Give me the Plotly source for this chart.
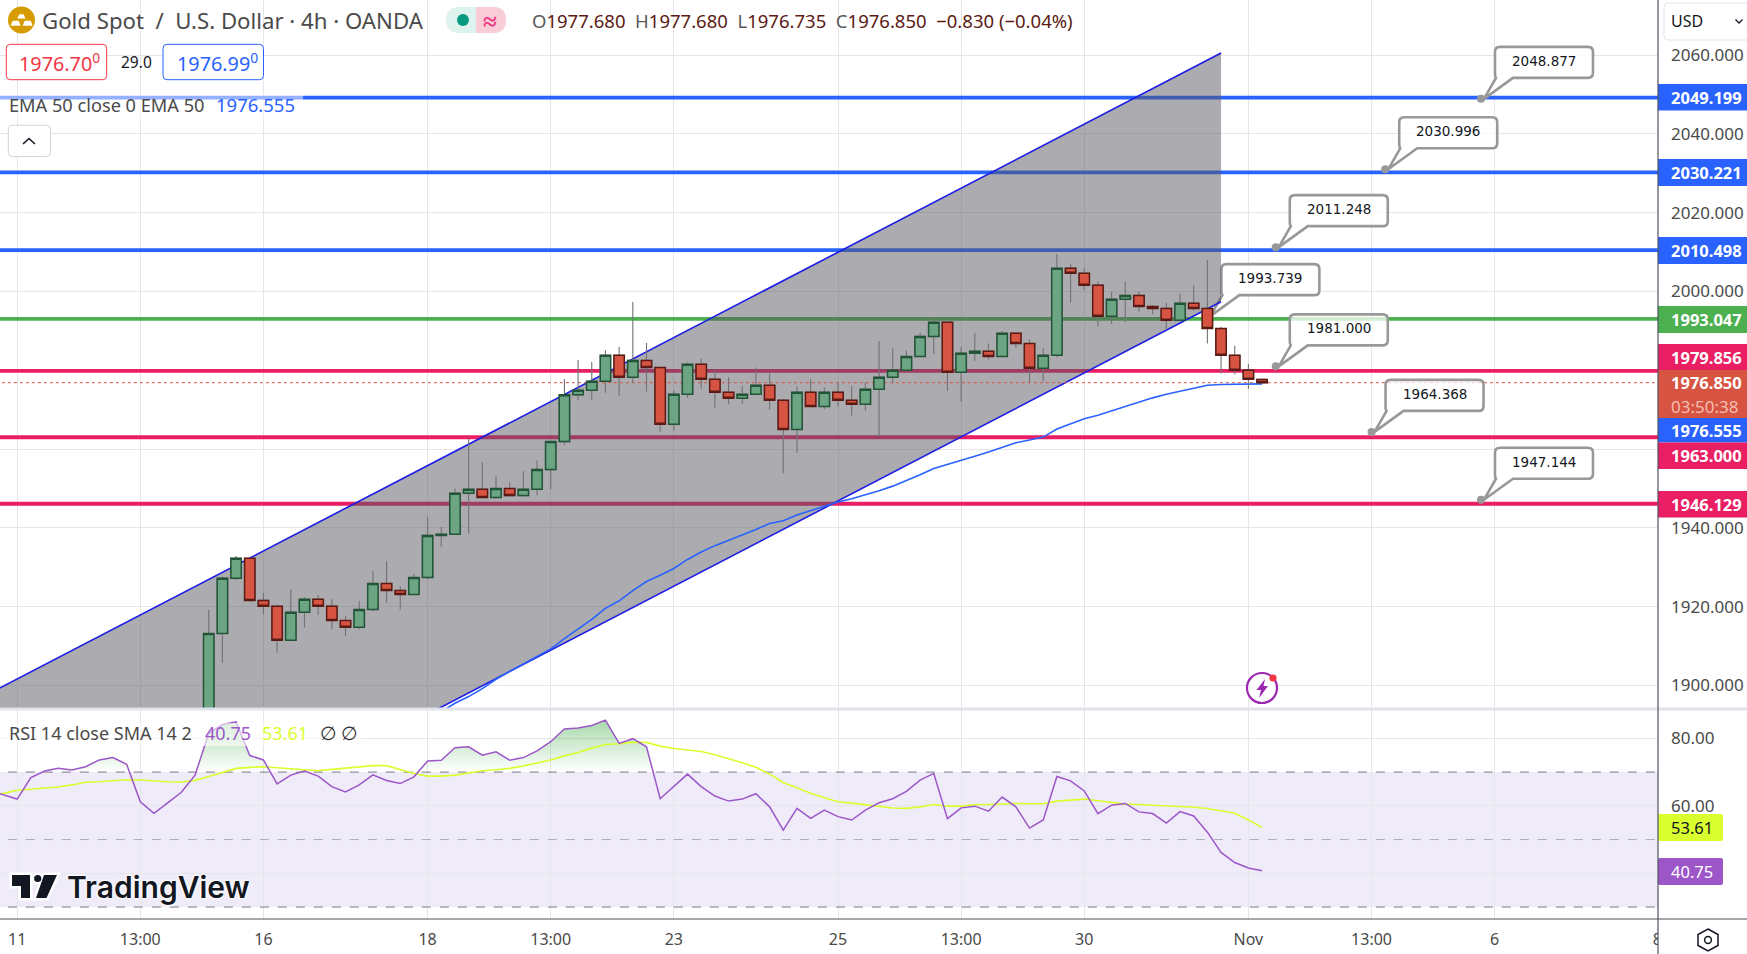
import plotly.graph_objects as go

W = 1747
H = 954
PANE_RIGHT = 1658
MAIN_BOTTOM = 708
RSI_TOP = 710
RSI_BOTTOM = 919

FONT = "Noto Sans"
TEXT_COLOR = "#4a4a4a"
GRID_COLOR = "#e6e6e8"
UP_FILL = "#6ba583"
UP_EDGE = "#225437"
DOWN_FILL = "#d75442"
DOWN_EDGE = "#5b1a13"
WICK_COLOR = "#737375"
BLUE = "#2962ff"
PINK = "#e91e63"
GREEN = "#4caf50"
PURPLE = "#9c56c8"
YELLOW = "#d9ff2e"
CALLOUT_GRAY = "#989898"

# bar 0 is the "11" date tick, one bar = 4h
BAR_FIRST = 14
OPENS = [
    1893.0, 1913.2, 1927.2, 1932.3, 1921.6, 1920.1, 1911.5, 1918.6, 1921.9, 1920.1,
    1916.5, 1914.8, 1919.3, 1925.9, 1924.1, 1923.1, 1927.4, 1938.1, 1938.4, 1948.8,
    1949.8, 1947.7, 1950.0, 1948.2, 1949.8, 1954.8, 1961.9, 1973.8, 1974.9, 1977.2,
    1983.8, 1978.2, 1982.5, 1980.7, 1966.3, 1973.9, 1981.5, 1977.7, 1974.4, 1972.9,
    1973.9, 1976.2, 1972.4, 1965.0, 1974.4, 1970.8, 1974.4, 1972.4, 1971.4, 1975.2,
    1978.2, 1980.0, 1983.5, 1988.6, 1992.2, 1979.5, 1984.3, 1984.8, 1983.5, 1989.4,
    1986.8, 1980.5, 1983.8, 2005.9, 2004.6, 2001.6, 1993.7, 1998.0, 1999.0, 1996.2,
    1995.7, 1992.7, 1997.0, 1995.7, 1990.6, 1983.8, 1980.0, 1977.68,
]
HIGHS = [
    1919.2, 1927.6, 1932.9, 1932.5, 1923.5, 1920.1, 1924.5, 1922.4, 1923.0, 1921.9,
    1917.6, 1921.4, 1929.0, 1931.6, 1925.2, 1928.3, 1942.8, 1940.2, 1950.0, 1962.7,
    1956.7, 1953.3, 1951.6, 1954.4, 1957.1, 1962.0, 1977.8, 1982.6, 1982.1, 1985.1,
    1985.9, 1997.3, 1986.9, 1980.7, 1974.9, 1982.0, 1982.9, 1980.1, 1978.2, 1976.0,
    1980.7, 1979.2, 1972.7, 1975.9, 1977.7, 1975.6, 1976.9, 1976.0, 1976.9, 1987.4,
    1985.6, 1985.0, 1989.5, 1993.4, 1992.2, 1985.9, 1989.5, 1986.8, 1989.9, 1989.7,
    1987.9, 1985.65, 2009.5, 2007.0, 2005.9, 2002.6, 2000.0, 2002.6, 2000.0, 1996.5,
    1997.2, 1999.4, 2001.6, 2008.0, 1991.1, 1986.2, 1981.6, 1977.68,
]
LOWS = [
    1890.0, 1905.8, 1926.8, 1921.3, 1918.1, 1908.3, 1911.5, 1914.7, 1917.9, 1914.3,
    1912.6, 1914.3, 1918.9, 1921.0, 1919.2, 1923.1, 1927.0, 1935.2, 1938.4, 1938.5,
    1947.5, 1947.4, 1947.9, 1947.9, 1948.2, 1949.9, 1961.1, 1972.4, 1972.3, 1974.3,
    1973.5, 1976.8, 1974.6, 1964.4, 1964.7, 1973.0, 1975.3, 1970.3, 1971.3, 1971.5,
    1973.9, 1970.0, 1953.8, 1959.1, 1970.8, 1970.2, 1970.9, 1968.5, 1969.7, 1963.1,
    1976.7, 1980.0, 1983.5, 1984.1, 1974.8, 1972.0, 1982.4, 1982.8, 1983.5, 1985.7,
    1977.0, 1977.1, 1983.3, 1997.2, 2000.4, 1991.1, 1991.8, 1992.1, 1994.9, 1994.2,
    1990.6, 1992.7, 1995.2, 1986.8, 1979.2, 1979.0, 1975.3, 1976.735,
]
CLOSES = [
    1913.2, 1927.2, 1932.3, 1921.6, 1920.1, 1911.5, 1918.6, 1921.9, 1920.1, 1916.5,
    1914.8, 1919.3, 1925.9, 1924.1, 1923.1, 1927.4, 1938.1, 1938.4, 1948.8, 1949.8,
    1947.7, 1950.0, 1948.2, 1949.8, 1954.8, 1961.9, 1973.8, 1974.9, 1977.2, 1983.8,
    1978.2, 1982.5, 1980.7, 1966.3, 1973.9, 1981.5, 1977.7, 1974.4, 1972.9, 1973.9,
    1976.2, 1972.4, 1965.0, 1974.4, 1970.8, 1974.4, 1972.4, 1971.4, 1975.2, 1978.2,
    1980.0, 1983.5, 1988.6, 1992.2, 1979.5, 1984.3, 1984.8, 1983.5, 1989.4, 1986.8,
    1980.5, 1983.8, 2005.9, 2004.6, 2001.6, 1993.7, 1998.0, 1999.0, 1996.2, 1995.7,
    1992.7, 1997.0, 1995.7, 1990.6, 1983.8, 1980.0, 1977.7, 1976.85,
]

EMA_FIRST = 30
EMA_50 = [
    1891.8, 1893.4, 1895.5, 1897.2, 1899.2, 1901.6, 1903.6, 1905.5, 1907.3, 1909.3,
    1911.9, 1914.3, 1916.8, 1919.6, 1921.5, 1924.1, 1926.4, 1928.0, 1929.7, 1932.0,
    1933.9, 1935.5, 1936.8, 1938.1, 1939.6, 1941.1, 1941.8, 1943.3, 1944.4, 1945.6,
    1946.6, 1947.4, 1948.4, 1949.4, 1950.6, 1952.0, 1953.5, 1955.1, 1956.2, 1957.2,
    1958.2, 1959.25, 1960.4, 1961.6, 1962.3, 1963.05, 1965.1, 1966.5, 1967.7, 1968.6,
    1969.7, 1970.9, 1972.0, 1973.0, 1973.9, 1974.7, 1975.5, 1976.2, 1976.4, 1976.5,
    1976.6, 1976.555,
]

RSI_FIRST = -2
RSI = [
    64.5, 63.2, 62.0, 68.4, 70.3, 71.1, 70.6, 71.6, 73.6, 74.3, 72.3, 61.2, 57.8, 60.9,
    64.0, 69.1, 81.5, 84.1, 84.9, 74.9, 73.6, 66.5, 69.1, 70.3, 68.8, 65.7, 64.1, 66.2,
    69.2, 67.5, 66.6, 68.6, 73.3, 73.5, 77.2, 77.5, 75.0, 76.0, 73.5, 74.3, 76.3, 79.0,
    82.8, 83.1, 83.8, 85.4, 78.5, 79.9, 77.5, 62.1, 65.7, 69.4, 65.7, 62.9, 61.4, 62.0,
    63.6, 59.7, 52.8, 59.25, 56.3, 58.75, 56.8, 55.8, 58.75, 60.9, 62.1, 64.3, 67.6, 69.6,
    56.2, 59.4, 59.9, 58.4, 62.6, 59.7, 53.4, 55.8, 68.7, 67.4, 64.4, 57.7, 60.2, 60.7,
    58.2, 57.7, 54.9, 58.3, 57.0, 52.2, 46.2, 43.2, 41.6, 40.75,
]
RSI_SMA = [
    63.4, 63.7, 64.6, 64.9, 65.3, 65.6, 66.2, 67.0, 67.15, 67.45, 67.75, 67.65, 67.35,
    67.15, 67.05, 67.55, 68.7, 70.0, 71.1, 71.4, 71.6, 71.3, 71.0, 70.7, 70.4, 70.8, 71.2,
    71.6, 71.9, 71.9, 70.8, 69.6, 68.8, 68.8, 69.1, 69.8, 70.4, 70.7, 71.1, 71.8, 72.6,
    73.6, 74.8, 75.8, 77.1, 78.2, 78.4, 78.8, 78.8, 77.7, 77.0, 76.6, 76.1, 75.15, 74.0,
    72.8, 71.4, 69.4, 66.9, 65.3, 63.7, 62.4, 61.2, 60.8, 60.3, 59.7, 59.35, 59.25, 59.7,
    60.4, 59.9, 59.9, 60.3, 60.4, 60.6, 60.7, 60.6, 60.6, 61.4, 61.8, 62.0, 61.5, 60.9,
    60.5, 60.4, 60.2, 60.0, 60.0, 59.6, 59.2, 58.6, 57.8, 55.8, 53.61,
]
RSI_LEVELS = [70, 50, 30]

LEVELS = [2049.199, 2030.221, 2010.498, 1993.047, 1979.856, 1963.0, 1946.129]
LEVEL_COLORS = [BLUE, BLUE, BLUE, GREEN, PINK, PINK, PINK]
LAST_PRICE = 1976.85

CHANNEL_BARS = [-2, 88]
CHANNEL_UPPER = [1898.05, 2060.5]
CHANNEL_LOWER = [1834.95, 1997.4]

CALLOUT_BARS = [107, 100, 92, 87, 92, 99, 107]
CALLOUT_PRICES = [2048.877, 2030.996, 2011.248, 1993.739, 1981.0, 1964.368, 1947.144]

# the "8" tick lands on the edge of the price scale, which cuts it in half
DATE_TICKS = [0, 9, 18, 30, 39, 48, 60, 69, 78, 90, 99, 108, 119.9]
DATE_LABELS = ["11", "13:00", "16", "18", "13:00", "23", "25", "13:00", "30", "Nov", "13:00", "6", "8"]
PRICE_TICKS = [1900, 1920, 1940, 2000, 2020, 2040, 2060]
PRICE_LABELS = ["1900.000", "1920.000", "1940.000", "2000.000", "2020.000", "2040.000", "2060.000"]
PRICE_HIDDEN_TICKS = [1960, 1980]
RSI_TICKS = [60, 80]
RSI_LABELS = ["60.00", "80.00"]
RSI_HIDDEN_TICKS = [40]

# text, colour, top and bottom of the tag on the price scale, in page pixels
TAG_TEXTS = ["2049.199", "2030.221", "2010.498", "1993.047", "1979.856", "1976.850", "03:50:38", "1976.555", "1963.000", "1946.129"]
TAG_COLORS = [BLUE, BLUE, BLUE, GREEN, PINK, DOWN_FILL, DOWN_FILL, BLUE, PINK, PINK]
TAG_TOPS = [84, 159, 237, 306, 344, 370, 394, 418, 442.5, 491]
TAG_BOTTOMS = [110.5, 186, 264, 333, 370, 394, 418, 442.5, 469, 517.5]


def fx(px):
    return px / W


def fy(py):
    return 1 - py / H


def text_at(x, y, text, color=TEXT_COLOR, size=17, anchor="left", family=FONT, **kw):
    return dict(
        x=fx(x), y=fy(y), xref="paper", yref="paper", text=text, showarrow=False,
        xanchor=anchor, yanchor="middle", borderpad=0,
        font=dict(family=family, size=size, color=color, **kw),
    )


def rounded_path(x0, y0, x1, y1, r):
    # rounded rectangle, page pixels in, paper fractions out
    a, b, c, d = fx(x0), fy(y0), fx(x1), fy(y1)
    rx, ry = r / W, r / H
    return (
        f"M {a + rx} {b} L {c - rx} {b} Q {c} {b} {c} {b - ry} "
        f"L {c} {d + ry} Q {c} {d} {c - rx} {d} "
        f"L {a + rx} {d} Q {a} {d} {a} {d + ry} "
        f"L {a} {b - ry} Q {a} {b} {a + rx} {b} Z"
    )


def poly_path(points):
    body = " L ".join(f"{fx(x)} {fy(y)}" for x, y in points)
    return f"M {body} Z"


def open_path(points):
    return "M " + " L ".join(f"{fx(x)} {fy(y)}" for x, y in points)


def paper_shape(path, fill="rgba(0,0,0,0)", line="rgba(0,0,0,0)", width=1):
    return dict(
        type="path", xref="paper", yref="paper", path=path, fillcolor=fill,
        line=dict(color=line, width=width), layer="above",
    )


def paper_circle(cx, cy, r, fill, line="rgba(0,0,0,0)", width=0):
    return dict(
        type="circle", xref="paper", yref="paper", layer="above",
        x0=fx(cx - r), x1=fx(cx + r), y0=fy(cy + r), y1=fy(cy - r),
        fillcolor=fill, line=dict(color=line, width=width),
    )


def overbought_polygons(bars, values, level):
    # closed outlines of the RSI stretches above the level
    xs, ys = [], []
    for i in range(1, len(values)):
        a, b = values[i - 1], values[i]
        if a <= level < b or b <= level < a:
            t = (level - a) / (b - a)
            cross = bars[i - 1] + t * (bars[i] - bars[i - 1])
            xs.append(cross)
            ys.append(level)
            if b <= level:
                xs.append(None)
                ys.append(None)
        if b > level:
            xs.append(bars[i])
            ys.append(b)
    return xs, ys


bars = list(range(BAR_FIRST, BAR_FIRST + len(OPENS)))
rsi_bars = list(range(RSI_FIRST, RSI_FIRST + len(RSI)))
ema_bars = list(range(EMA_FIRST, EMA_FIRST + len(EMA_50)))

fig = go.Figure()

# levels sit under the channel, candles go on an overlaid axis so they stay on top
for level, color in zip(LEVELS, LEVEL_COLORS):
    fig.add_trace(go.Scatter(
        x=[-2, 121], y=[level, level], mode="lines", hoverinfo="skip",
        line=dict(color=color, width=3.8),
    ))

fig.add_trace(go.Scatter(
    x=CHANNEL_BARS + CHANNEL_BARS[::-1], y=CHANNEL_UPPER + CHANNEL_LOWER[::-1],
    mode="lines", fill="toself", fillcolor="rgba(88,88,98,0.5)",
    line=dict(width=0), hoverinfo="skip",
))
for edge in (CHANNEL_UPPER, CHANNEL_LOWER):
    fig.add_trace(go.Scatter(
        x=CHANNEL_BARS, y=edge, mode="lines", hoverinfo="skip",
        line=dict(color="#1c1ce6", width=1.6),
    ))

fig.add_trace(go.Scatter(
    x=[-2, 121], y=[LAST_PRICE, LAST_PRICE], mode="lines", hoverinfo="skip",
    line=dict(color=DOWN_FILL, width=1, dash="dot"),
))
fig.add_trace(go.Scatter(
    x=ema_bars, y=EMA_50, mode="lines", name="EMA 50",
    line=dict(color=BLUE, width=1.6),
))
fig.add_trace(go.Scatter(
    x=CALLOUT_BARS, y=CALLOUT_PRICES, mode="markers", hoverinfo="skip",
    marker=dict(color=CALLOUT_GRAY, size=8),
))

fig.add_trace(go.Candlestick(
    x=bars, open=OPENS, high=HIGHS, low=LOWS, close=CLOSES, yaxis="y3",
    increasing=dict(line=dict(color=WICK_COLOR, width=1.1), fillcolor=UP_FILL),
    decreasing=dict(line=dict(color=WICK_COLOR, width=1.1), fillcolor=DOWN_FILL),
))
fig.add_trace(go.Candlestick(
    x=bars, open=OPENS, close=CLOSES, yaxis="y3",
    high=[max(o, c) for o, c in zip(OPENS, CLOSES)],
    low=[min(o, c) for o, c in zip(OPENS, CLOSES)],
    increasing=dict(line=dict(color=UP_EDGE, width=1.5), fillcolor=UP_FILL),
    decreasing=dict(line=dict(color=DOWN_EDGE, width=1.5), fillcolor=DOWN_FILL),
))

# RSI pane
poly_x, poly_y = overbought_polygons(rsi_bars, RSI, 70)
fig.add_trace(go.Scatter(
    x=poly_x, y=poly_y, xaxis="x2", yaxis="y2", mode="lines", fill="toself",
    line=dict(width=0), hoverinfo="skip",
    fillgradient=dict(
        type="vertical", start=70, stop=86,
        colorscale=[[0, "rgba(76,175,80,0)"], [1, "rgba(76,175,80,0.5)"]],
    ),
))
fig.add_trace(go.Scatter(
    x=rsi_bars, y=RSI_SMA, xaxis="x2", yaxis="y2", mode="lines", name="SMA",
    line=dict(color=YELLOW, width=1.6),
))
fig.add_trace(go.Scatter(
    x=rsi_bars, y=RSI, xaxis="x2", yaxis="y2", mode="lines", name="RSI",
    line=dict(color=PURPLE, width=1.5),
))

shapes = []
annotations = []

# RSI band
shapes.append(dict(
    type="rect", xref="x2", yref="y2", x0=-2, x1=121, y0=RSI_LEVELS[2], y1=RSI_LEVELS[0],
    fillcolor="rgba(126,87,194,0.12)", line=dict(width=0), layer="below",
))
for level, color in zip(RSI_LEVELS, ["#787b86", "#a9abb3", "#787b86"]):
    shapes.append(dict(
        type="line", xref="x2", yref="y2", x0=-2, x1=121, y0=level, y1=level,
        line=dict(color=color, width=1, dash="dash"), layer="between",
    ))

# legend veils
shapes.append(dict(type="rect", xref="paper", yref="paper", x0=0, x1=fx(303), y0=fy(118), y1=fy(94),
                   fillcolor="rgba(255,255,255,0.5)", line=dict(width=0), layer="above"))
shapes.append(dict(type="rect", xref="paper", yref="paper", x0=0, x1=fx(362), y0=fy(746), y1=fy(723),
                   fillcolor="rgba(255,255,255,0.6)", line=dict(width=0), layer="above"))

# hides the right half of the "8" tick label
shapes.append(dict(type="rect", xref="paper", yref="paper", x0=fx(PANE_RIGHT), x1=1, y0=0, y1=fy(RSI_BOTTOM),
                   fillcolor="white", line=dict(width=0), layer="above"))

# pane borders
shapes.append(dict(type="line", xref="paper", yref="paper", x0=0, x1=1, y0=fy(709), y1=fy(709),
                   line=dict(color="#e0e3eb", width=3), layer="above"))
shapes.append(dict(type="line", xref="paper", yref="paper", x0=0, x1=1, y0=fy(RSI_BOTTOM), y1=fy(RSI_BOTTOM),
                   line=dict(color="#50535e", width=1.2), layer="above"))

# callouts, pixel offsets from the anchored price
BOX_PATH = (
    "M 19 52 L 107 52 Q 112 52 112 47 L 112 26 Q 112 21 107 21 L 32 21 L 3 0 "
    "L 15 21 Q 14 22 14 26 L 14 47 Q 14 52 19 52 Z"
)
for bar, price in zip(CALLOUT_BARS, CALLOUT_PRICES):
    shapes.append(dict(
        type="path", xref="x", yref="y", xsizemode="pixel", ysizemode="pixel",
        xanchor=bar, yanchor=price, path=BOX_PATH, fillcolor="rgba(255,255,255,0.75)",
        line=dict(color=CALLOUT_GRAY, width=2.6),
        layer="between" if price == 1993.739 else "above",
    ))
    annotations.append(dict(
        x=bar, y=price, xref="x", yref="y", xshift=63, yshift=38, showarrow=False,
        text=f"{price:.3f}", font=dict(family="DejaVu Sans", size=13.5, color="#131722"),
    ))

# price scale tags
for text, color, top, bottom in zip(TAG_TEXTS, TAG_COLORS, TAG_TOPS, TAG_BOTTOMS):
    shapes.append(dict(type="rect", xref="paper", yref="paper", x0=fx(PANE_RIGHT), x1=1,
                       y0=fy(bottom), y1=fy(top), fillcolor=color, line=dict(width=0), layer="above"))
    faded = text.startswith("03")
    annotations.append(text_at(1670, (top + bottom) / 2, text if faded else f"<b>{text}</b>",
                               color="#f6bdb3" if faded else "white", size=17 if faded else 16.5))

shapes.append(paper_shape(rounded_path(1658, 814, 1723, 841, 2), fill=YELLOW))
shapes.append(paper_shape(rounded_path(1658, 858, 1723, 885, 2), fill=PURPLE))
shapes.append(dict(type="line", xref="paper", yref="paper", x0=fx(PANE_RIGHT), x1=fx(PANE_RIGHT), y0=0, y1=1,
                   line=dict(color="#50535e", width=1.2), layer="above"))
annotations.append(text_at(1670, 827.5, "53.61", color="#131722", size=16.5))
annotations.append(text_at(1670, 871.5, "40.75", color="white", size=16.5))

# header
shapes.append(paper_circle(21.5, 20, 13.5, "#d59b00"))
for bar_top, bar_bottom, left, right, bevel in [
    (14.3, 18.6, 17.3, 25.5, 2), (20.7, 25.7, 10.7, 20.7, 2), (20.7, 25.7, 22.7, 32.7, 2),
]:
    shapes.append(paper_shape(poly_path([
        (left + bevel, bar_top), (right - bevel, bar_top), (right, bar_bottom), (left, bar_bottom),
    ]), fill="white"))
annotations.append(text_at(41, 20, "Gold Spot&nbsp; /&nbsp; U.S. Dollar · 4h · OANDA", size=22.2))

shapes.append(paper_shape(rounded_path(446, 7, 506, 33, 13), fill="#def2ee"))
shapes.append(paper_shape(
    f"M {fx(476)} {fy(7)} L {fx(493)} {fy(7)} Q {fx(506)} {fy(7)} {fx(506)} {fy(20)} "
    f"Q {fx(506)} {fy(33)} {fx(493)} {fy(33)} L {fx(476)} {fy(33)} Z",
    fill="#f9cdd8",
))
shapes.append(paper_circle(463, 20, 6, "#089981"))
annotations.append(text_at(490, 20, "<b>≈</b>", color="#f23685", size=25, anchor="center"))


def ohlc(label, value):
    return f'<span style="color:#5a5a5a">{label}</span>{value}'


annotations.append(text_at(
    531, 20,
    ohlc("O", "1977.680") + "  " + ohlc("H", "1977.680") + "  " + ohlc("L", "1976.735") + "  "
    + ohlc("C", "1976.850") + "  −0.830 (−0.04%)",
    color=DOWN_EDGE, size=18.5,
))

shapes.append(paper_shape(rounded_path(6.3, 44.3, 106.7, 79.7, 4), fill="white", line="#f23645", width=1))
annotations.append(text_at(18, 62, "1976.70<sup>0</sup>", color="#f23645", size=19.8))
annotations.append(text_at(120, 62, "29.0", color="#131722", size=15.5))
shapes.append(paper_shape(rounded_path(163, 44.3, 263.5, 79.7, 4), fill="white", line=BLUE, width=1))
annotations.append(text_at(176, 62, "1976.99<sup>0</sup>", color=BLUE, size=19.8))

annotations.append(text_at(8, 105, "EMA 50 close 0 EMA 50", size=18.2))
annotations.append(text_at(215, 105, "1976.555", color=BLUE, size=18.5))

shapes.append(paper_shape(rounded_path(8.3, 125.3, 50.5, 156.5, 4), fill="white", line="#d1d4dc", width=1))
shapes.append(paper_shape(open_path([(23, 144), (29, 138.5), (35, 144)]), line="#131722", width=1.6))

# currency selector
shapes.append(paper_shape(rounded_path(1664, 3, 1752, 40, 4), fill="white", line="#e0e3eb", width=1))
annotations.append(text_at(1670, 21, "USD", color="#131722", size=16))
shapes.append(paper_shape(open_path([(1735.5, 19.5), (1739, 23), (1742.5, 19.5)]), line="#131722", width=1.3))

# RSI legend
annotations.append(text_at(8, 733, "RSI 14 close SMA 14 2", size=18))
annotations.append(text_at(204, 733, "40.75", color=PURPLE, size=18))
annotations.append(text_at(261, 733, "53.61", color=YELLOW, size=18))
annotations.append(text_at(319, 733, "∅", color="#333333", size=19))
annotations.append(text_at(340, 733, "∅", color="#333333", size=19))

# TradingView mark, white halo first
LOGO_T = [(12, 875), (30, 875), (30, 898), (21, 898), (21, 886), (12, 886)]
LOGO_SLASH = [(44, 875), (57, 875), (46.5, 898), (36, 898)]
for color, edge in (("white", 5), ("#131722", 0)):
    shapes.append(paper_shape(poly_path(LOGO_T), fill=color, line=color, width=edge))
    shapes.append(paper_shape(poly_path(LOGO_SLASH), fill=color, line=color, width=edge))
    shapes.append(paper_circle(37.7, 878.5, 3.6, color, line=color, width=edge))
annotations.append(text_at(
    66, 886.5, "TradingView", color="#131722", size=30, family="Inter", weight=600,
    shadow="0 0 3px white, 0 0 3px white, 0 0 3px white",
))

# alert icon
shapes.append(paper_circle(1262, 688, 15, "white", line="#9c27b0", width=2.2))
shapes.append(paper_shape(poly_path([(1265, 679), (1256.5, 690), (1261, 690), (1259, 698), (1268, 686), (1263.5, 686)]), fill="#9c27b0"))
shapes.append(paper_circle(1273, 678, 3.6, "#f23645"))

# settings icon
shapes.append(paper_shape(poly_path([(1708, 929), (1718, 934.5), (1718, 945.5), (1708, 951), (1698, 945.5), (1698, 934.5)]), fill="white", line="#131722", width=1.5))
shapes.append(paper_circle(1708, 940, 3.4, "white", line="#131722", width=1.5))

x_range = [-1.257, 119.94]
y_range = [1894.3, 2073.96]

fig.update_layout(
    width=W,
    height=H,
    margin=dict(l=0, r=0, t=0, b=0, autoexpand=False),
    paper_bgcolor="white",
    plot_bgcolor="white",
    showlegend=False,
    boxmode="overlay",
    boxgap=0.24,
    boxgroupgap=0,
    font=dict(family=FONT, color=TEXT_COLOR),
    shapes=shapes,
    annotations=annotations,
    xaxis=dict(
        domain=[0, PANE_RIGHT / W], range=x_range, anchor="y", tickvals=DATE_TICKS[:-1],
        showticklabels=False, showgrid=True, gridcolor=GRID_COLOR, zeroline=False,
        rangeslider=dict(visible=False), ticks="",
    ),
    xaxis2=dict(
        domain=[0, PANE_RIGHT / W], range=x_range, anchor="y2", matches="x",
        tickvals=DATE_TICKS, ticktext=DATE_LABELS, tickfont=dict(size=16, color=TEXT_COLOR),
        showgrid=True, gridcolor=GRID_COLOR, zeroline=False, ticks="", ticklabelstandoff=9,
    ),
    yaxis=dict(
        domain=[1 - MAIN_BOTTOM / H, 1], range=y_range, side="right", anchor="x",
        tickvals=PRICE_TICKS, ticktext=PRICE_LABELS, tickfont=dict(size=17, color=TEXT_COLOR),
        showgrid=True, gridcolor=GRID_COLOR, zeroline=False, ticks="", ticklabelstandoff=12,
        minor=dict(tickvals=PRICE_HIDDEN_TICKS, showgrid=True, gridcolor=GRID_COLOR, ticks=""),
    ),
    yaxis3=dict(
        overlaying="y", range=y_range, side="right", anchor="x", visible=False, showgrid=False,
    ),
    yaxis2=dict(
        domain=[1 - RSI_BOTTOM / H, 1 - RSI_TOP / H], range=[26.46, 88.4], side="right", anchor="x2",
        tickvals=RSI_TICKS, ticktext=RSI_LABELS, tickfont=dict(size=17, color=TEXT_COLOR),
        showgrid=True, gridcolor=GRID_COLOR, zeroline=False, ticks="", ticklabelstandoff=12,
        minor=dict(tickvals=RSI_HIDDEN_TICKS, showgrid=True, gridcolor=GRID_COLOR, ticks=""),
    ),
)

fig.write_html(
    "out.html",
    config=dict(displayModeBar=False),
    post_script="document.body.style.margin='0';document.body.style.overflow='hidden';",
)
